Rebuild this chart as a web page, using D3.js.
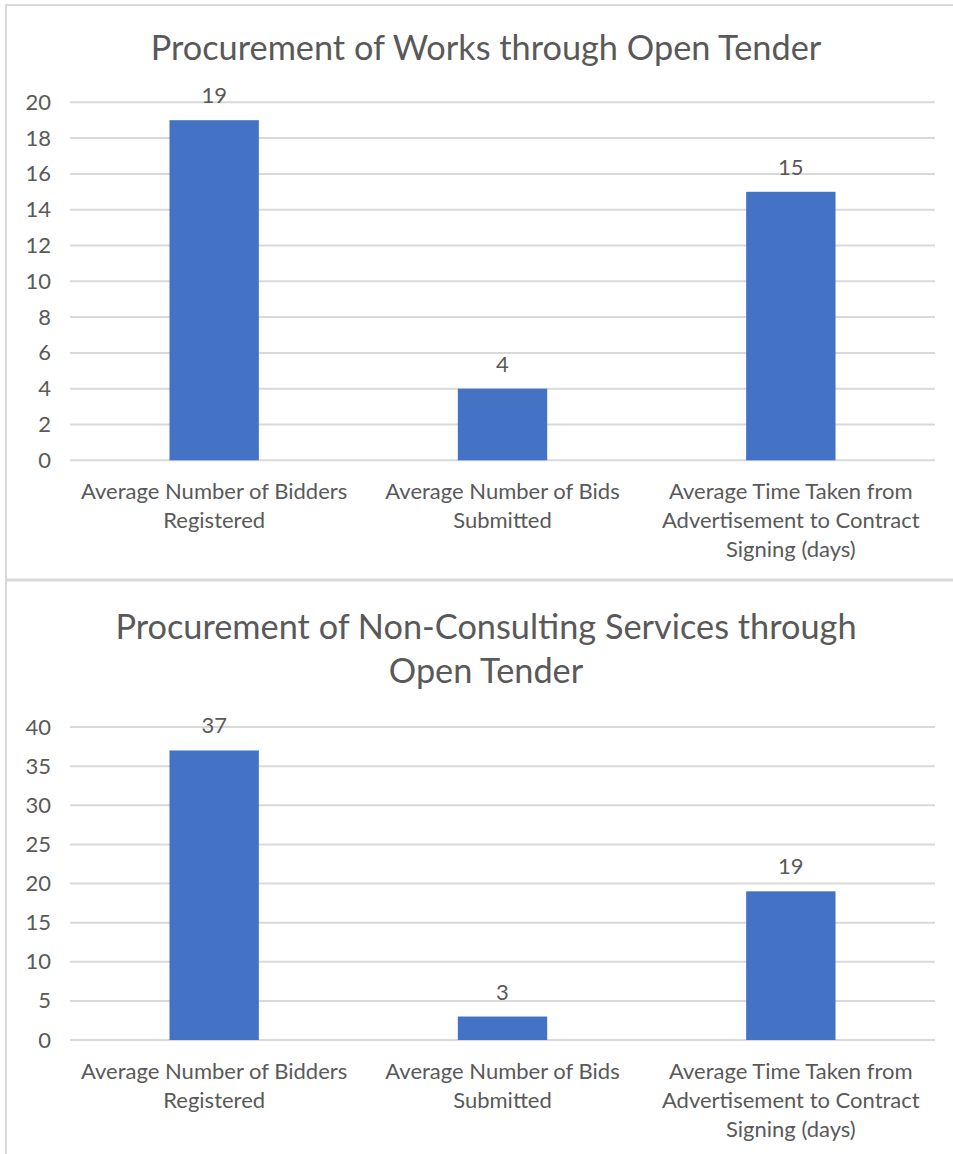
<!DOCTYPE html>
<html>
<head>
<meta charset="utf-8">
<script src="https://cdn.jsdelivr.net/npm/d3@7"></script>
<style>
  html, body { margin: 0; padding: 0; background: #fff; }
  svg { display: block; }
  text { font-family: Lato, "Open Sans", sans-serif; fill: #595959; }
</style>
</head>
<body>
<svg id="chart" width="953" height="1154"></svg>
<script>
// Shared category labels (wrapped lines)
const categories = [
  ["Average Number of Bidders", "Registered"],
  ["Average Number of Bids", "Submitted"],
  ["Average Time Taken from", "Advertisement to Contract", "Signing (days)"]
];

// Works chart
const worksTitle = ["Procurement of Works through Open Tender"];
const worksValues = [19, 4, 15];
const worksTicks = [0, 2, 4, 6, 8, 10, 12, 14, 16, 18, 20];

// Non-consulting services chart
const servicesTitle = ["Procurement of Non-Consulting Services through", "Open Tender"];
const servicesValues = [37, 3, 19];
const servicesTicks = [0, 5, 10, 15, 20, 25, 30, 35, 40];

const svg = d3.select("#chart");
const BORDER = "#d9d9d9";
const BAR = "#4472c4";
const LABEL_SIZE = 22;

// Panel frames
svg.append("line").attr("x1", 6).attr("x2", 953).attr("y1", 5).attr("y2", 5)
  .attr("stroke", BORDER).attr("stroke-width", 2);
svg.append("line").attr("x1", 6).attr("x2", 6).attr("y1", 4).attr("y2", 1154)
  .attr("stroke", BORDER).attr("stroke-width", 2);
svg.append("line").attr("x1", 6).attr("x2", 953).attr("y1", 580).attr("y2", 580)
  .attr("stroke", BORDER).attr("stroke-width", 3);

function drawPanel(opts) {
  const g = svg.append("g");
  const x = d3.scaleBand()
    .domain(d3.range(opts.values.length))
    .range([70, 935])
    .paddingInner(0.69)
    .paddingOuter(0.345);
  const y = d3.scaleLinear()
    .domain([0, d3.max(opts.ticks)])
    .range([opts.y0, opts.yTop]);

  // title
  const title = g.append("text")
    .attr("text-anchor", "middle")
    .attr("font-size", 34.3);
  opts.title.forEach((t, i) => {
    title.append("tspan").attr("x", 486).attr("y", opts.titleY + i * 44).text(t);
  });

  // gridlines
  g.append("g").selectAll("line").data(opts.ticks).join("line")
    .attr("x1", 70).attr("x2", 935)
    .attr("y1", d => y(d)).attr("y2", d => y(d))
    .attr("stroke", BORDER).attr("stroke-width", 2);

  // y tick labels
  const axis = d3.axisLeft(y).tickValues(opts.ticks).tickSize(0).tickPadding(0);
  const ax = g.append("g").attr("transform", "translate(51,0)").call(axis);
  ax.select(".domain").remove();
  ax.selectAll("text")
    .attr("font-size", LABEL_SIZE)
    .attr("font-family", "Lato, 'Open Sans', sans-serif")
    .attr("fill", "#595959");

  // bars
  g.append("g").selectAll("rect").data(opts.values).join("rect")
    .attr("x", (d, i) => x(i))
    .attr("width", x.bandwidth())
    .attr("y", d => y(d))
    .attr("height", d => y(0) - y(d))
    .attr("fill", BAR);

  // value labels
  g.append("g").selectAll("text").data(opts.values).join("text")
    .attr("x", (d, i) => x(i) + x.bandwidth() / 2)
    .attr("y", d => y(d) - 17)
    .attr("text-anchor", "middle")
    .attr("font-size", LABEL_SIZE)
    .text(d => d);

  // category labels
  const cl = g.append("g").selectAll("text").data(categories).join("text")
    .attr("text-anchor", "middle")
    .attr("font-size", LABEL_SIZE);
  cl.each(function (lines, i) {
    const cx = x(i) + x.bandwidth() / 2;
    d3.select(this).selectAll("tspan").data(lines).join("tspan")
      .attr("x", cx)
      .attr("y", (d, j) => y(0) + 39 + j * 29)
      .text(d => d);
  });
}

drawPanel({ title: worksTitle, titleY: 60, values: worksValues, ticks: worksTicks, y0: 460.3, yTop: 102.3 });
drawPanel({ title: servicesTitle, titleY: 639, values: servicesValues, ticks: servicesTicks, y0: 1040, yTop: 727 });
</script>
</body>
</html>
